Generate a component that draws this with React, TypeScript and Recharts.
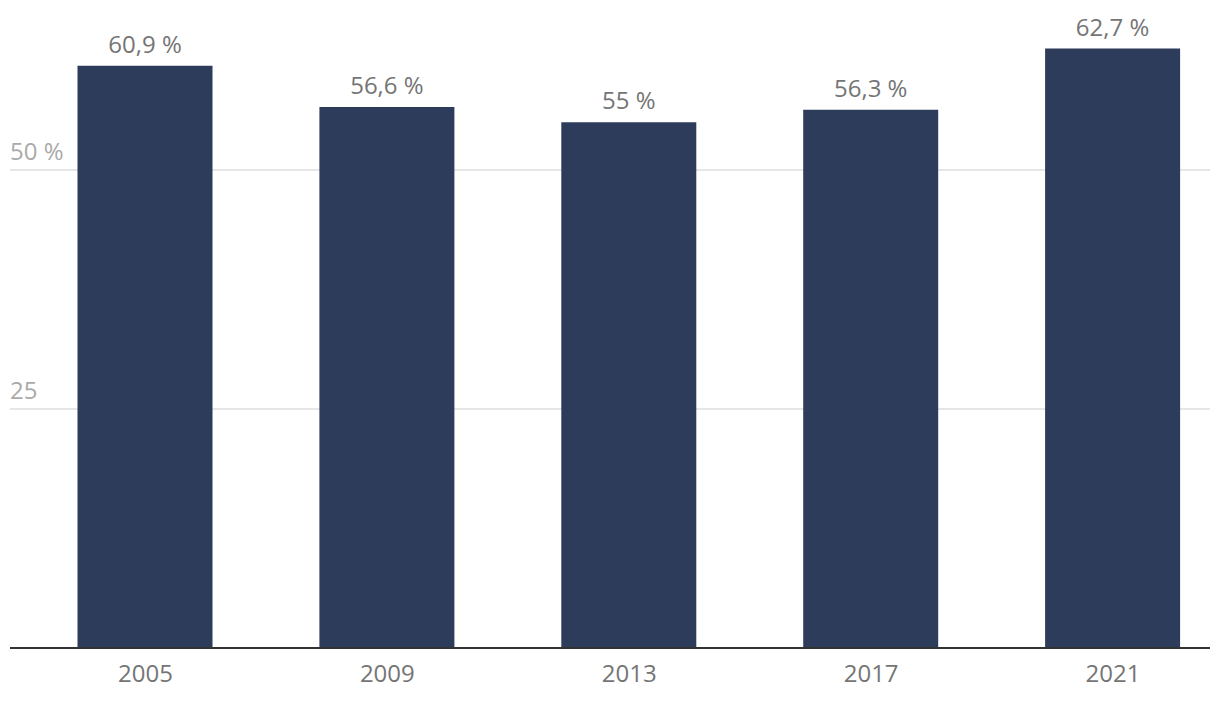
import { BarChart, Bar, XAxis, YAxis, CartesianGrid, LabelList, ReferenceLine } from "recharts";

const years = ["2005", "2009", "2013", "2017", "2021"];
const shares = [60.9, 56.6, 55, 56.3, 62.7];
const yTicks = [25, 50];
const yTickLabels = ["25", "50 %"];

const data = years.map((year, i) => ({ year, share: shares[i] }));

const fmt = (v: number) => `${String(v).replace(".", ",")} %`;

export default function App() {
  return (
    <div style={{ position: "absolute", left: 0, top: 0, fontFamily: "'Open Sans', sans-serif" }}>
      <BarChart
        width={1220}
        height={702}
        data={data}
        margin={{ top: 26.6, right: 10, bottom: 14, left: 10 }}
      >
        <CartesianGrid
          vertical={false}
          horizontalValues={yTicks}
          stroke="#e6e6e6"
          strokeWidth={2}
        />
        <XAxis
          dataKey="year"
          height={40}
          padding={{ left: 14.5, right: -24 }}
          axisLine={{ stroke: "#333333", strokeWidth: 2 }}
          tickLine={false}
          tick={{ fill: "#757575", fontSize: 24, dy: 9 }}
        />
        <YAxis hide domain={[0, 65]} ticks={yTicks} />
        {yTicks.map((t, i) => (
          <ReferenceLine
            key={t}
            y={t}
            stroke="none"
            label={(p: any) => (
              <text x={10} y={p.viewBox.y - 10} textAnchor="start" fill="#aaaaaa" fontSize={24}>
                {yTickLabels[i]}
              </text>
            )}
          />
        ))}
        <Bar dataKey="share" fill="#2d3c5a" barSize={135} isAnimationActive={false}>
          <LabelList
            dataKey="share"
            position="top"
            offset={13}
            formatter={(v: any) => fmt(v)}
            fill="#757575"
            fontSize={24}
          />
        </Bar>
      </BarChart>
    </div>
  );
}
